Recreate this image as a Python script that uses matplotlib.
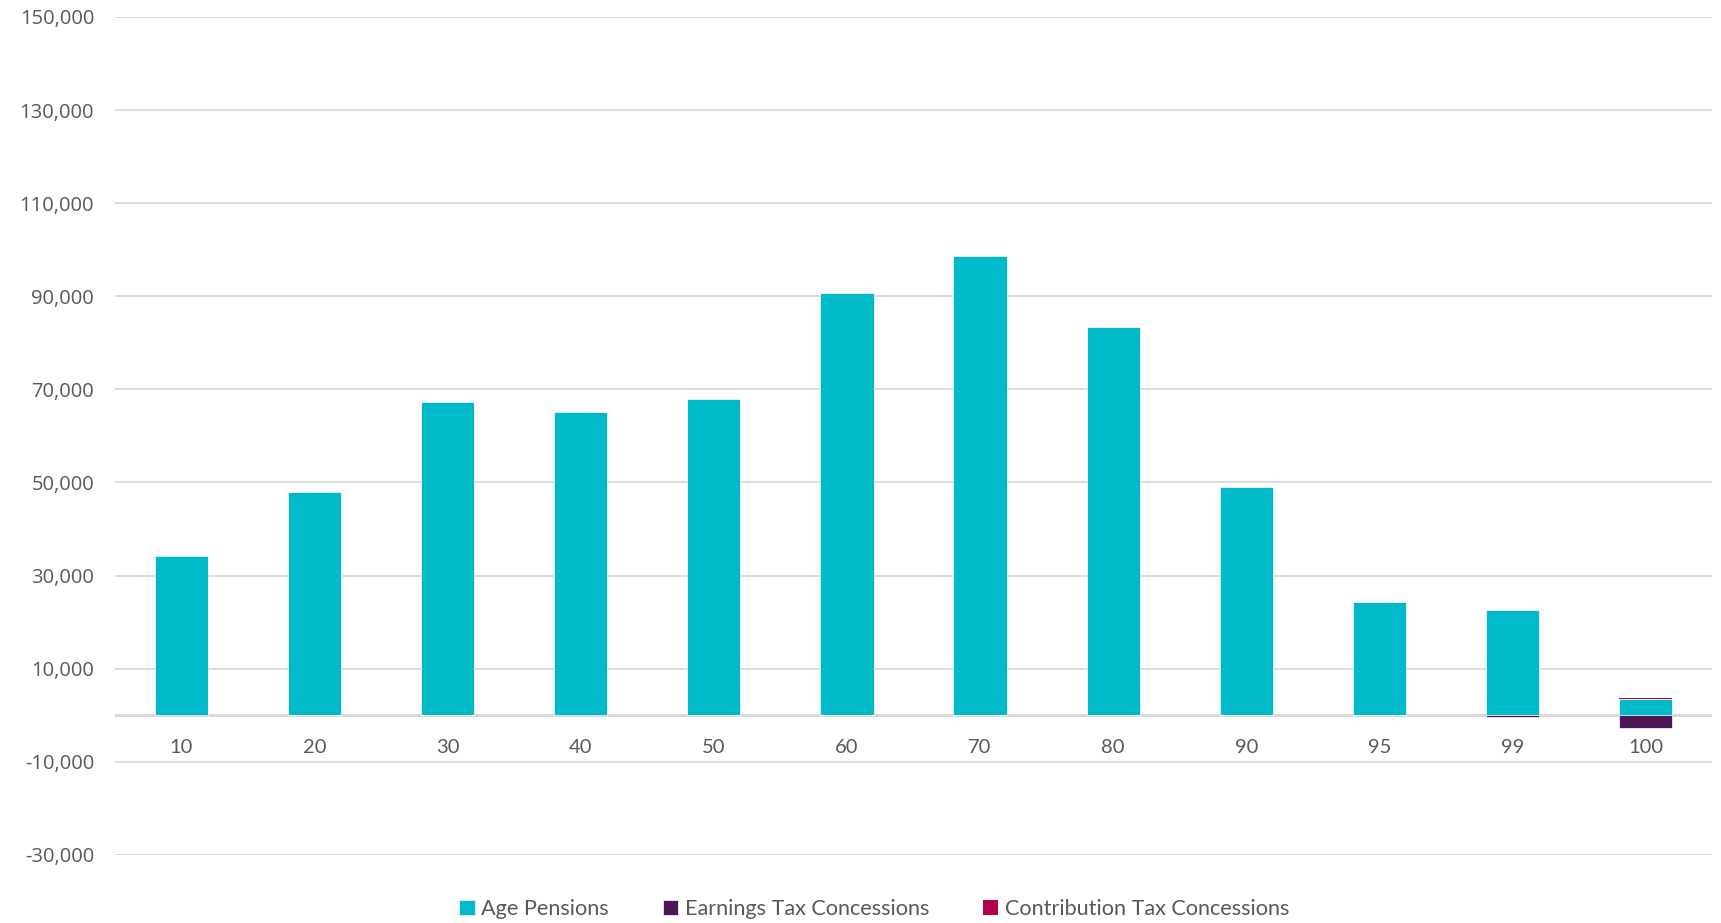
import numpy as np
import matplotlib
matplotlib.use("Agg")
import matplotlib.pyplot as plt
from matplotlib.ticker import FuncFormatter

plt.rcParams['font.family'] = ['Lato', 'DejaVu Sans']

percentiles = ['10', '20', '30', '40', '50', '60', '70', '80', '90', '95', '99', '100']
age_pensions = [34200, 47900, 67200, 65100, 67900, 90600, 98600, 83300, 49100, 24300, 22600, 3600]
earnings_tax = [-150, 0, 0, -150, 0, 0, 0, 0, 0, 0, -400, -2700]
contribution_tax = [0, 0, 0, 0, 0, 0, 0, 0, 0, 0, 0, 150]

teal = '#00B9C9'
purple = '#4B1654'
crimson = '#B2004E'
grey_text = '#595959'
grid_col = '#D9D9D9'

fig = plt.figure(figsize=(17.21, 9.23), dpi=100)
ax = fig.add_axes([0.0668, 0.0737, 0.928, 0.908])

x = np.arange(len(percentiles))
w = 0.40
ap = np.array(age_pensions)
et = np.array(earnings_tax)
ct = np.array(contribution_tax)

ax.bar(x, ap, w, color=teal, edgecolor='white', linewidth=0.5, label='Age Pensions', zorder=3)
ax.bar(x, et, w, color=purple, edgecolor='white', linewidth=0.5, label='Earnings Tax Concessions', zorder=3)
ax.bar(x, ct, w, bottom=ap, color=crimson, linewidth=0, label='Contribution Tax Concessions', zorder=4)

ax.set_xlim(-0.5, len(percentiles) - 0.5)
ax.set_ylim(-30000, 150000)
ax.set_yticks(np.arange(-30000, 150001, 20000))
ax.yaxis.set_major_formatter(FuncFormatter(lambda v, p: f'{int(v):,}'))
ax.grid(axis='y', color=grid_col, linewidth=1.3, zorder=0)
ax.axhline(0, color=grid_col, linewidth=2.2, zorder=2)

for s in ['top', 'right', 'left']:
    ax.spines[s].set_visible(False)
ax.spines['bottom'].set_position(('data', 0))
ax.spines['bottom'].set_visible(False)

ax.set_xticks(x)
ax.set_xticklabels(percentiles)
ax.tick_params(axis='x', length=0, pad=17, labelsize=14.5, labelcolor=grey_text)
ax.tick_params(axis='y', length=0, pad=15, labelsize=14.5, labelcolor=grey_text)
for lab in ax.get_yticklabels():
    lab.set_fontfamily(['Open Sans', 'DejaVu Sans'])

handles, labels = ax.get_legend_handles_labels()
fig.legend(handles, labels, loc='lower center', bbox_to_anchor=(0.508, -0.017), ncol=3,
           frameon=False, fontsize=15.6, labelcolor=grey_text, handlelength=0.7,
           handleheight=0.7, handletextpad=0.3, columnspacing=2.5)

fig.savefig('out.png', dpi=100)
